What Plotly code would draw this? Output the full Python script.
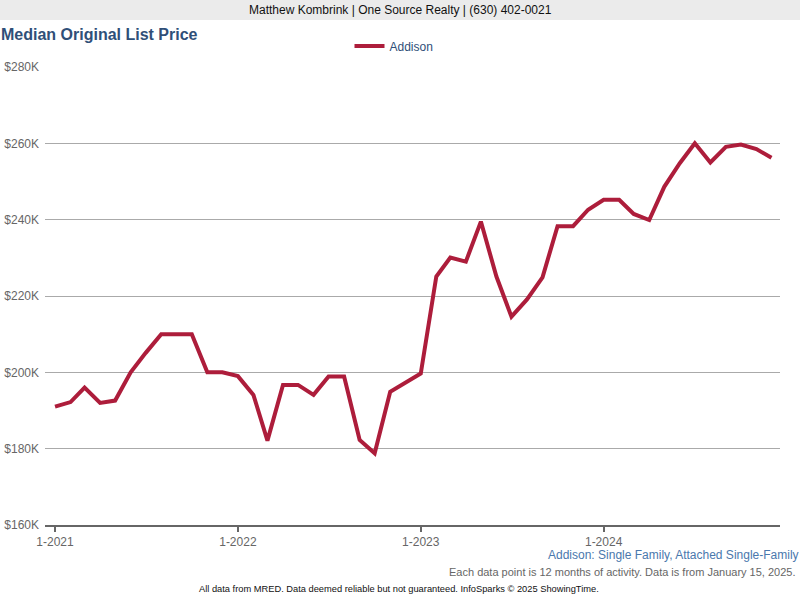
import pandas as pd
import plotly.graph_objects as go

# ---- data ----
months = pd.date_range("2021-01-01", "2024-12-01", freq="MS")
median_price = [
    191.0, 192.2, 196.0, 192.0, 192.6, 200.0, 205.1, 210.0, 210.0, 210.0, 200.0, 200.0,
    199.0, 194.1, 182.1, 196.7, 196.7, 194.1, 198.9, 198.9, 182.3, 178.8, 194.9, 197.3,
    199.7, 225.1, 230.1, 229.0, 239.5, 225.1, 214.6, 219.1, 224.9, 238.3, 238.3, 242.6,
    245.2, 245.2, 241.5, 239.9, 248.6, 254.8, 260.0, 255.0, 259.1, 259.7, 258.5, 256.2,
]
median_price = [v * 1000 for v in median_price]
series_name = "Addison"
y_tick_vals = [160000, 180000, 200000, 220000, 240000, 260000, 280000]
y_tick_text = ["$160K", "$180K", "$200K", "$220K", "$240K", "$260K", "$280K"]
x_tick_vals = ["2021-01-01", "2022-01-01", "2023-01-01", "2024-01-01"]
x_tick_text = ["1-2021", "1-2022", "1-2023", "1-2024"]

header_text = "Matthew Kombrink | One Source Realty | (630) 402-0021"
title_text = "Median Original List Price"
subtitle_text = "Addison: Single Family, Attached Single-Family"
note_text = "Each data point is 12 months of activity. Data is from January 15, 2025."
footer_text = "All data from MRED. Data deemed reliable but not guaranteed. InfoSparks © 2025 ShowingTime."

# ---- layout geometry (pixels) ----
W, H = 800, 600
L, R, T, B = 45, 20, 67, 75
PW, PH = W - L - R, H - T - B
FONT = "Liberation Sans, Arial, sans-serif"

def px(x):
    return (x - L) / PW

def py(y):
    return (H - B - y) / PH

fig = go.Figure()
fig.add_trace(go.Scatter(
    x=months, y=median_price, mode="lines", name=series_name,
    line=dict(color="#ad1d3b", width=4),
))

fig.update_layout(
    width=W, height=H,
    margin=dict(l=L, r=R, t=T, b=B, autoexpand=False),
    paper_bgcolor="white", plot_bgcolor="white",
    font=dict(family=FONT, size=12, color="#666666"),
    showlegend=True,
    legend=dict(
        orientation="h", x=px(394), xanchor="center", y=py(46), yanchor="middle",
        font=dict(family=FONT, size=12, color="#2f4f78"),
        bgcolor="rgba(0,0,0,0)", itemwidth=30,
    ),
    xaxis=dict(
        type="date",
        range=["2020-12-12", "2024-12-18"],
        tickvals=x_tick_vals, ticktext=x_tick_text,
        showgrid=False, zeroline=False, automargin=False,
        showline=True, linecolor="#666666", linewidth=2,
        ticks="outside", ticklen=5, tickwidth=2, tickcolor="#666666",
        tickfont=dict(family=FONT, size=12, color="#666666"),
    ),
    yaxis=dict(
        range=[160000, 280000],
        tickvals=y_tick_vals, ticktext=y_tick_text,
        showgrid=True, gridcolor="#aaaaaa", gridwidth=1,
        zeroline=False, showline=False, ticks="", automargin=False,
        ticklabelstandoff=5,
        tickfont=dict(family=FONT, size=12, color="#666666"),
    ),
    shapes=[dict(
        type="rect", xref="paper", yref="paper",
        x0=px(0), x1=px(W), y0=py(20), y1=py(0),
        fillcolor="#ebebeb", line=dict(width=0), layer="below",
    )],
)

def note(text, x, y, xanchor, size, color, bold=False):
    fig.add_annotation(
        text=f"<b>{text}</b>" if bold else text,
        xref="paper", yref="paper", x=px(x), y=py(y),
        xanchor=xanchor, yanchor="middle", showarrow=False,
        font=dict(family=FONT, size=size, color=color),
    )

note(header_text, 400, 10, "center", 12, "#111111")
note(title_text, -1, 34, "left", 16, "#2f4f78", bold=True)
note(subtitle_text, 801, 555, "right", 12, "#4a78ad")
note(note_text, 797, 572, "right", 11, "#666666")
note(footer_text, 399, 589, "center", 9.3, "#111111")

fig.write_html(
    "out.html",
    config={"displayModeBar": False},
    post_script="document.body.style.margin='0';document.body.style.overflow='hidden';",
)
